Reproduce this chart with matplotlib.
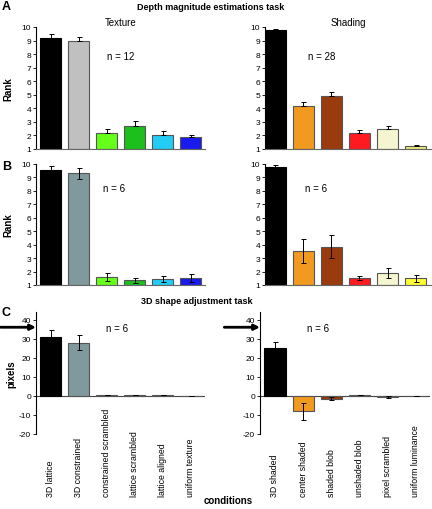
"""
Depth magnitude estimations / 3D shape adjustment bar panels
"""
import numpy as np
import matplotlib
matplotlib.use('Agg')
import matplotlib.pyplot as plt

plt.rcParams['font.family'] = ['Liberation Sans', 'DejaVu Sans']
plt.rcParams['axes.unicode_minus'] = False

# --- data -------------------------------------------------------------
texture_labels = ['3D lattice', '3D constrained', 'constrained scrambled',
                  'lattice scrambled', 'lattice aligned', 'uniform texture']
shading_labels = ['3D shaded', 'center shaded', 'shaded blob',
                  'unshaded blob', 'pixel scrambled', 'uniform luminance']

# A: depth magnitude ranks (first group)
texA = [9.2, 8.95, 2.2, 2.7, 2.05, 1.85]
texA_err = [0.25, 0.3, 0.25, 0.35, 0.3, 0.2]
shdA = [9.75, 4.2, 4.9, 2.2, 2.45, 1.2]
shdA_err = [0.1, 0.3, 0.3, 0.2, 0.25, 0.08]

# B: depth magnitude ranks (second group)
texB = [9.55, 9.3, 1.6, 1.35, 1.45, 1.5]
texB_err = [0.3, 0.4, 0.3, 0.2, 0.25, 0.3]
shdB = [9.8, 3.5, 3.85, 1.5, 1.9, 1.5]
shdB_err = [0.15, 0.9, 0.85, 0.15, 0.4, 0.25]

# C: shape adjustment (pixels)
texC = [31, 28, 0.2, 0.2, 0.2, 0.0]
texC_err = [3.7, 4.0, 0, 0, 0, 0]
shdC = [25, -8, -1.5, 0.2, -0.6, 0.0]
shdC_err = [3.5, 4.5, 0.8, 0.0, 0.4, 0.0]
arrow_level = 36

n_texA, n_shdA, n_B, n_C = 12, 28, 6, 6

# colours
texA_col = ['#000000', '#c0c0c0', '#66ff1a', '#1cbf1c', '#22ccf5', '#1a1aee']
texB_col = ['#000000', '#7f999c', '#66ff1a', '#1cbf1c', '#22ccf5', '#1a1aee']
shdA_col = ['#000000', '#f29a1f', '#993a0f', '#ff1a22', '#f5f5d0', '#ecec7a']
shdB_col = ['#000000', '#f29a1f', '#993a0f', '#ff1a22', '#f5f5d0', '#ffff33']
edge = '#555555'

W, H = 432, 510
fig = plt.figure(figsize=(W / 100, H / 100), dpi=100)


def px_axes(x0, x1, y0, y1):
    # pixel box -> figure fraction
    return fig.add_axes([x0 / W, 1 - y1 / H, (x1 - x0) / W, (y1 - y0) / H])


def style(ax):
    for s in ['top', 'right']:
        ax.spines[s].set_visible(False)
    ax.spines['left'].set_linewidth(0.8)
    ax.spines['bottom'].set_linewidth(0.8)
    ax.spines['bottom'].set_color('#666666')
    ax.tick_params(axis='y', labelsize=6, length=2, width=0.6, pad=1.5)
    ax.tick_params(axis='x', length=0)


def rank_panel(ax, vals, errs, cols, xlim, upper_only, n, npos):
    x = np.arange(len(vals))
    heights = [v - 1 for v in vals]
    ecs = ['#000000' if c == '#000000' else edge for c in cols]
    ax.bar(x, heights, bottom=1, width=0.75, color=cols, edgecolor=ecs, linewidth=0.8, zorder=2)
    if upper_only:
        yerr = [np.zeros(len(errs)), errs]
    else:
        yerr = errs
    ax.errorbar(x, vals, yerr=yerr, fmt='none', ecolor='black', elinewidth=0.7,
                capsize=1.8, capthick=0.7, zorder=3)
    ax.set_ylim(1, 10)
    ax.set_yticks(range(1, 11))
    ax.set_xlim(*xlim)
    ax.set_xticks([])
    style(ax)
    ax.text(npos[0], npos[1], f'n = {n}', transform=ax.transAxes, fontsize=7,
            ha='center', va='center')


def pixel_panel(ax, vals, errs, cols, labels, xlim, n, npos):
    x = np.arange(len(vals))
    ecs = ['#000000' if c == '#000000' else edge for c in cols]
    ax.bar(x, vals, width=0.75, color=cols, edgecolor=ecs, linewidth=0.8, zorder=2)
    ax.errorbar(x, vals, yerr=errs, fmt='none', ecolor='black', elinewidth=0.7,
                capsize=1.8, capthick=0.7, zorder=3)
    ax.axhline(0, color='#444444', lw=0.8, zorder=1)
    ax.set_ylim(-20, 44)
    ax.set_yticks(range(-20, 41, 10))
    ax.set_xlim(*xlim)
    style(ax)
    ax.spines['bottom'].set_visible(False)
    ax.set_xticks(x)
    ax.set_xticklabels(labels, rotation=90, va='bottom', fontsize=6.3)
    ax.tick_params(axis='x', pad=44.5, length=0)
    ax.text(npos[0], npos[1], f'n = {n}', transform=ax.transAxes, fontsize=7,
            ha='center', va='center')
    # arrow from outside the axis pointing at the reference level
    ax.annotate('', xy=(0, arrow_level), xycoords=('axes fraction', 'data'),
                xytext=(-0.21, arrow_level), textcoords=('axes fraction', 'data'),
                arrowprops=dict(arrowstyle='-|>', lw=2, color='black', mutation_scale=8,
                                shrinkA=0, shrinkB=0),
                annotation_clip=False)


# A
axA1 = px_axes(36, 205, 28, 150)
rank_panel(axA1, texA, texA_err, texA_col, (-0.52, 5.5), True, n_texA, (0.5, 0.76))
axA1.set_ylabel('Rank', fontsize=7, fontweight='bold', labelpad=6)
axA1.set_title('Texture', fontsize=7, pad=1)
axA2 = px_axes(265, 431, 28, 150)
rank_panel(axA2, shdA, shdA_err, shdA_col, (-0.37, 5.55), True, n_shdA, (0.34, 0.76))
axA2.set_title('Shading', fontsize=7, pad=1)

# B
axB1 = px_axes(36, 205, 165, 286)
rank_panel(axB1, texB, texB_err, texB_col, (-0.52, 5.5), False, n_B, (0.46, 0.8))
axB1.set_ylabel('Rank', fontsize=7, fontweight='bold', labelpad=6)
axB2 = px_axes(265, 431, 165, 286)
rank_panel(axB2, shdB, shdB_err, shdB_col, (-0.37, 5.55), False, n_B, (0.31, 0.8))

# C
axC1 = px_axes(36, 205, 313, 435)
pixel_panel(axC1, texC, texC_err, texB_col, texture_labels, (-0.52, 5.5), n_C, (0.48, 0.87))
axC1.set_ylabel('pixels', fontsize=7, fontweight='bold', labelpad=2)
axC2 = px_axes(260, 430, 313, 435)
pixel_panel(axC2, shdC, shdC_err, shdB_col, shading_labels, (-0.53, 5.5), n_C, (0.34, 0.87))

# headings and panel letters
fig.text(211 / W, 1 - 7 / H, 'Depth magnitude estimations task', fontsize=6.5,
         fontweight='bold', ha='center', va='center')
fig.text(197 / W, 1 - 301 / H, '3D shape adjustment task', fontsize=6.5,
         fontweight='bold', ha='center', va='center')
fig.text(228 / W, 1 - 501 / H, 'conditions', fontsize=7, fontweight='bold',
         ha='center', va='center')
for letter, py in [('A', 7), ('B', 167), ('C', 313)]:
    fig.text(2 / W, 1 - py / H, letter, fontsize=9, fontweight='bold', ha='left', va='center')

fig.savefig('out.png', dpi=100)
